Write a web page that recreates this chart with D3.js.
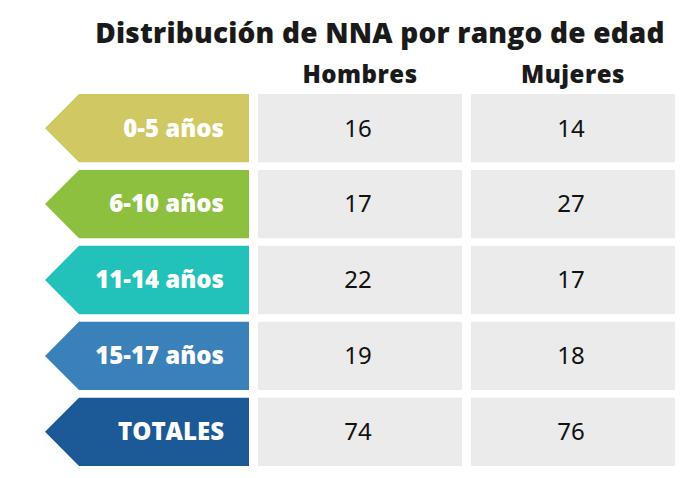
<!DOCTYPE html>
<html>
<head>
<meta charset="utf-8">
<script src="https://cdn.jsdelivr.net/npm/d3@7"></script>
<style>
  body { margin: 0; background: #fff; }
  svg { display: block; }
</style>
</head>
<body>
<div id="vis_container"></div>
<script>
// Age ranges (row labels), their arrow colours and the counts per sex.
var rangos = ["0-5 años", "6-10 años", "11-14 años", "15-17 años", "TOTALES"];
var colores = ["#d0c862", "#8dc03f", "#22c1b9", "#3a80b9", "#1b5a96"];
var columnas = ["Hombres", "Mujeres"];
var hombres = [16, 17, 22, 19, 74];
var mujeres = [14, 27, 17, 18, 76];
var titulo = "Distribución de NNA por rango de edad";

var width = 692;
var height = 478;
var boldFont = "'Open Sans', sans-serif";

// Rows and columns of the table are laid out with band scales.
var y = d3.scaleBand()
	.domain(rangos)
	.range([94, 466])
	.paddingInner(0.1);

var x = d3.scaleBand()
	.domain(columnas)
	.range([258, 675])
	.paddingInner(0.042);

var svg = d3.select("#vis_container")
	.append("svg")
	.attr("width", width)
	.attr("height", height);

svg.append("text")
	.attr("x", 380)
	.attr("y", 43)
	.attr("text-anchor", "middle")
	.style("font-family", boldFont)
	.style("font-weight", "800")
	.style("font-size", "28px")
	.style("letter-spacing", "0.2px")
	.style("fill", "#1a1a1a")
	.text(titulo);

// Column headers
svg.selectAll(".header").data(columnas)
	.enter().append("text")
	.attr("class", "header")
	.attr("x", function(d) { return x(d) + x.bandwidth() / 2; })
	.attr("y", 83)
	.attr("text-anchor", "middle")
	.style("font-family", boldFont)
	.style("font-weight", "800")
	.style("font-size", "24px")
	.style("letter-spacing", "0.5px")
	.style("fill", "#1a1a1a")
	.text(function(d) { return d; });

// Arrow-shaped row labels pointing left
var arrowRight = 249, arrowTip = 45, notch = 34;
function arrowPath(d) {
	var top = y(d), h = y.bandwidth();
	return "M" + arrowRight + "," + top +
		"L" + (arrowTip + notch) + "," + top +
		"L" + arrowTip + "," + (top + h / 2) +
		"L" + (arrowTip + notch) + "," + (top + h) +
		"L" + arrowRight + "," + (top + h) + "Z";
}

svg.selectAll(".arrow").data(rangos)
	.enter().append("path")
	.attr("class", "arrow")
	.attr("d", arrowPath)
	.style("fill", function(d, i) { return colores[i]; });

svg.selectAll(".rango").data(rangos)
	.enter().append("text")
	.attr("class", "rango")
	.attr("x", 224)
	.attr("y", function(d) { return y(d) + y.bandwidth() / 2; })
	.attr("dy", "0.35em")
	.attr("text-anchor", "end")
	.style("font-family", boldFont)
	.style("font-weight", "800")
	.style("font-size", "24px")
	.style("letter-spacing", "0px")
	.style("fill", "#ffffff")
	.text(function(d) { return d; });

// Gray value cells
var celdas = [];
rangos.forEach(function(r, i) {
	celdas.push({rango: r, col: "Hombres", valor: hombres[i]});
	celdas.push({rango: r, col: "Mujeres", valor: mujeres[i]});
});

svg.selectAll(".celda").data(celdas)
	.enter().append("rect")
	.attr("class", "celda")
	.attr("x", function(d) { return x(d.col); })
	.attr("y", function(d) { return y(d.rango); })
	.attr("width", x.bandwidth())
	.attr("height", y.bandwidth())
	.style("fill", "#ebebeb");

svg.selectAll(".valor").data(celdas)
	.enter().append("text")
	.attr("class", "valor")
	.attr("x", function(d) { return x(d.col) + x.bandwidth() / 2 - 2; })
	.attr("y", function(d) { return y(d.rango) + y.bandwidth() / 2; })
	.attr("dy", "0.35em")
	.attr("text-anchor", "middle")
	.style("font-family", "'Noto Sans', 'Open Sans', sans-serif")
	.style("font-size", "24px")
	.style("fill", "#111")
	.text(function(d) { return d.valor; });
</script>
</body>
</html>
